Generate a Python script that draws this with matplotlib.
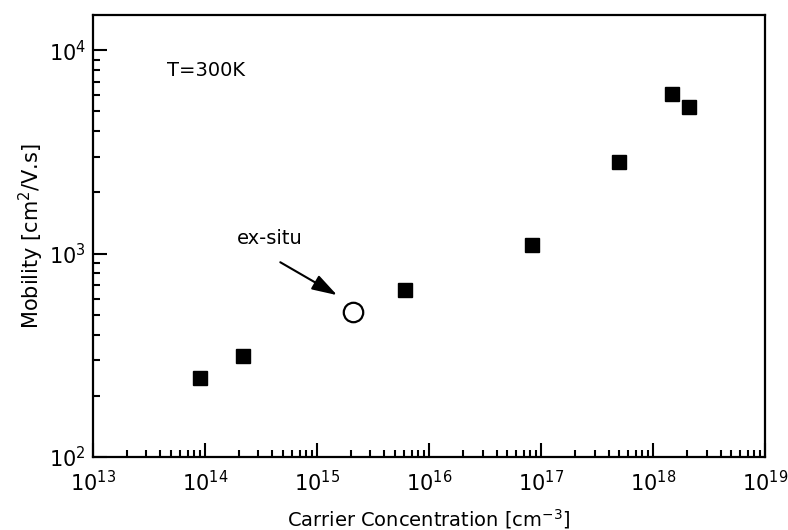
"""Hall mobility vs carrier concentration at 300 K (log-log scatter)"""

import matplotlib
matplotlib.use("Agg")
import matplotlib.pyplot as plt
from matplotlib.ticker import FixedLocator, NullFormatter

# data
conc = [9.0e13, 2.2e14, 6.1e15, 8.3e16, 5.0e17, 1.48e18, 2.1e18]
mobility = [244, 313, 662, 1100, 2820, 6080, 5250]

# the single ex-situ sample
exsitu_conc = [2.1e15]
exsitu_mob = [516]

x_major = [1e13, 1e14, 1e15, 1e16, 1e17, 1e18, 1e19]
y_major = [1e2, 1e3, 1e4]

plt.rcParams["font.family"] = ["DejaVu Sans"]

fig = plt.figure(figsize=(7.88, 5.30), dpi=100)
ax = fig.add_axes([0.118, 0.1377, 0.853, 0.834])

ax.plot(conc, mobility, linestyle="none", marker="s", markersize=10.5,
        color="black")
ax.plot(exsitu_conc, exsitu_mob, linestyle="none", marker="o",
        markersize=14, markerfacecolor="white", markeredgecolor="black",
        markeredgewidth=1.6)

ax.set_xscale("log")
ax.set_yscale("log")
ax.set_xlim(1e13, 1e19)
ax.set_ylim(1e2, 1.49e4)

# ticks: inward, only on bottom / left
ax.set_xticks(x_major)
ax.set_yticks(y_major)
x_minor = [m * d for d in x_major[:-1] for m in range(2, 10)]
y_minor = [m * d for d in y_major for m in range(2, 10) if m * d < 1.49e4]
ax.xaxis.set_minor_locator(FixedLocator(x_minor))
ax.yaxis.set_minor_locator(FixedLocator(y_minor))
ax.xaxis.set_minor_formatter(NullFormatter())
ax.yaxis.set_minor_formatter(NullFormatter())
ax.tick_params(which="both", direction="in", top=False, right=False,
               width=1.5, labelsize=15)
ax.tick_params(which="major", length=10)
ax.tick_params(which="minor", length=5)
ax.tick_params(axis="x", pad=9)
ax.tick_params(axis="y", pad=5)

for sp in ax.spines.values():
    sp.set_linewidth(1.6)

ax.set_xlabel("Carrier Concentration [cm$^{-3}$]", fontsize=14, labelpad=9)
ax.set_ylabel("Mobility [cm$^2$/V.s]", fontsize=15, labelpad=2)

ax.text(0.11, 0.875, "T=300K", transform=ax.transAxes, fontsize=14,
        va="center")

# arrow and its label
ax.text(3.8e14, 1190, "ex-situ", fontsize=14, ha="center", va="center")
ax.annotate("", xy=(1.51e15, 625), xytext=(4.7e14, 907),
            arrowprops=dict(arrowstyle="-|>,head_length=0.7,head_width=0.22",
                            color="black", lw=1.5,
                            mutation_scale=22, shrinkA=0, shrinkB=0))

fig.savefig("out.png", dpi=100)
